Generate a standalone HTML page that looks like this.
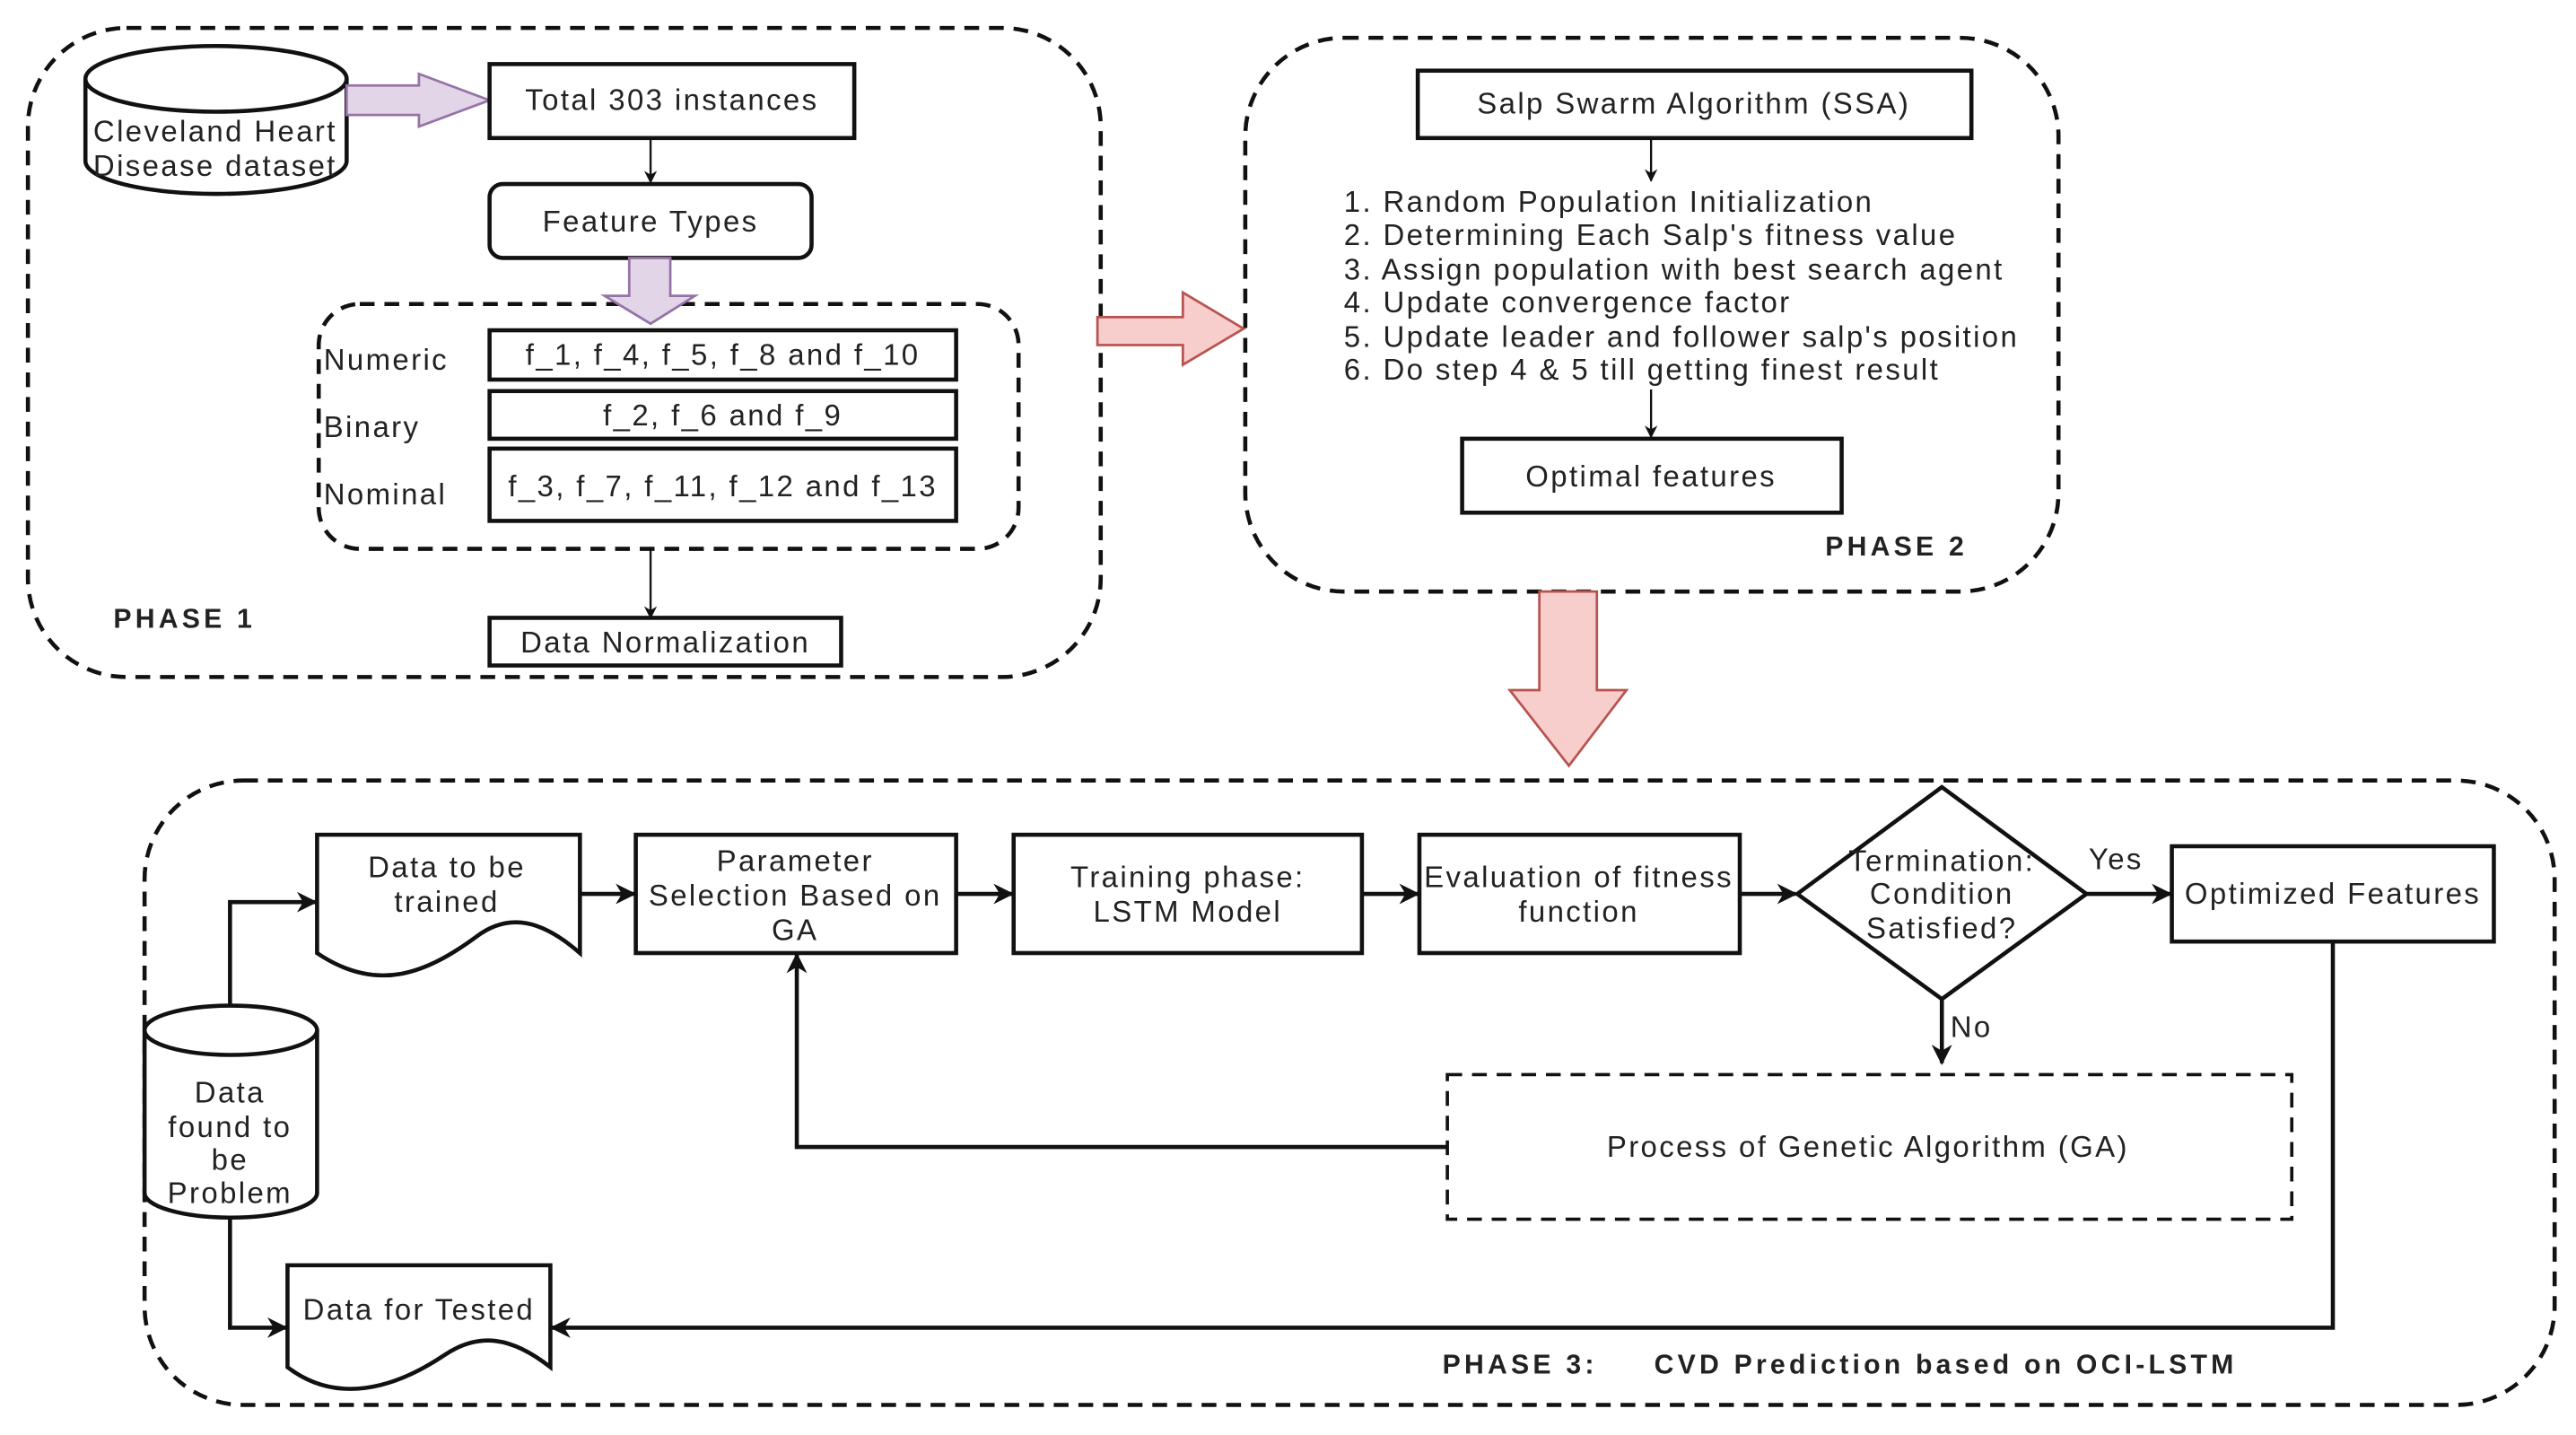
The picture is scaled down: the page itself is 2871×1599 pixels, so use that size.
<!DOCTYPE html>
<html><head><meta charset="utf-8"><style>
html,body{margin:0;padding:0;background:#fff;}
svg{display:block;}
text{font-family:"Liberation Sans",sans-serif;fill:#222;letter-spacing:1.3px;}
text.b{letter-spacing:2.3px;}
</style></head><body>
<svg width="2871" height="1599" viewBox="0 0 1568 873.3" xmlns="http://www.w3.org/2000/svg">
<defs>
<marker id="a" viewBox="0 0 10 10" refX="9" refY="5" markerWidth="5" markerHeight="5" orient="auto" markerUnits="strokeWidth"><path d="M0,0 L10,5 L0,10 L3,5 z" fill="#111"/></marker>
<marker id="b" viewBox="0 0 10 10" refX="9" refY="5" markerWidth="6" markerHeight="6" orient="auto" markerUnits="strokeWidth"><path d="M0,0 L10,5 L0,10 L3,5 z" fill="#111"/></marker>
</defs>
<g fill="none" stroke="#111" stroke-width="2.5" stroke-dasharray="9,6">
<rect x="17" y="17" width="653" height="395" rx="60"/>
<rect x="194" y="185" width="426" height="149" rx="25"/>
<rect x="758" y="23" width="495" height="337" rx="60"/>
<rect x="88" y="475" width="1467" height="380" rx="60"/>
<rect x="881" y="654" width="514" height="88" stroke-width="2"/>
</g>
<!-- Phase 1 -->
<g stroke="#111" stroke-width="2.5" fill="#fff">
<path d="M52,48 L52,98 A79.5,20 0 0 0 211,98 L211,48"/>
<ellipse cx="131.5" cy="48" rx="79.5" ry="20"/>
</g>
<path d="M211,52 L255,52 L255,45 L298,61 L255,77 L255,70 L211,70 Z" fill="#e1d5e7" stroke="#9673a6" stroke-width="1.5"/>
<g fill="#fff" stroke="#111" stroke-width="2.5">
<rect x="298" y="39" width="222" height="45"/>
<rect x="298" y="112" width="196" height="45" rx="8"/>
<rect x="298" y="201" width="284" height="30"/>
<rect x="298" y="238" width="284" height="29"/>
<rect x="298" y="273" width="284" height="44"/>
<rect x="298" y="376" width="214" height="29"/>
</g>
<path d="M383,157 L408,157 L408,180 L423,180 L396,197 L368,180 L383,180 Z" fill="#e1d5e7" stroke="#9673a6" stroke-width="1.5"/>
<g stroke="#111" stroke-width="1.3" marker-end="url(#b)">
<line x1="396" y1="84" x2="396" y2="111"/>
<line x1="396" y1="334" x2="396" y2="376"/>
<line x1="1005" y1="84" x2="1005" y2="110"/>
<line x1="1005" y1="237" x2="1005" y2="266"/>
</g>
<g font-size="18">
<text x="131" y="86" text-anchor="middle">Cleveland Heart</text>
<text x="131" y="107" text-anchor="middle">Disease dataset</text>
<text x="409" y="67" text-anchor="middle">Total 303 instances</text>
<text x="396" y="141" text-anchor="middle">Feature Types</text>
<text x="440" y="222" text-anchor="middle">f_1, f_4, f_5, f_8 and f_10</text>
<text x="440" y="259" text-anchor="middle">f_2, f_6 and f_9</text>
<text x="440" y="302" text-anchor="middle">f_3, f_7, f_11, f_12 and f_13</text>
<text x="197" y="225">Numeric</text>
<text x="197" y="266">Binary</text>
<text x="197" y="307">Nominal</text>
<text x="405" y="397" text-anchor="middle">Data Normalization</text>
<text class="b" x="69" y="382" font-weight="bold" font-size="16.5">PHASE 1</text>
</g>
<!-- red arrows -->
<path d="M668,193 L720,193 L720,178 L757,200 L720,222 L720,210 L668,210 Z" fill="#f8cecc" stroke="#b85450" stroke-width="1.5"/>
<path d="M937,360 L972,360 L972,420 L990,420 L955,466 L919,420 L937,420 Z" fill="#f8cecc" stroke="#b85450" stroke-width="1.5"/>
<!-- Phase 2 -->
<g fill="#fff" stroke="#111" stroke-width="2.5">
<rect x="863" y="43" width="337" height="41"/>
<rect x="890" y="267" width="231" height="45"/>
</g>
<g font-size="18">
<text x="1031" y="69" text-anchor="middle">Salp Swarm Algorithm (SSA)</text>
<text x="818" y="129">1. Random Population Initialization</text>
<text x="818" y="149">2. Determining Each Salp's fitness value</text>
<text x="818" y="170">3. Assign population with best search agent</text>
<text x="818" y="190">4. Update convergence factor</text>
<text x="818" y="211">5. Update leader and follower salp's position</text>
<text x="818" y="231">6. Do step 4 &amp; 5 till getting finest result</text>
<text x="1005" y="296" text-anchor="middle">Optimal features</text>
<text class="b" x="1111" y="338" font-weight="bold" font-size="16.5">PHASE 2</text>
</g>
<!-- Phase 3 -->
<g fill="#fff" stroke="#111" stroke-width="2.5">
<path d="M193,508 L353,508 L353,580 C330,560 310,555 290,570 C260,592 230,605 193,580 Z"/>
<rect x="387" y="508" width="195" height="72"/>
<rect x="617" y="508" width="212" height="72"/>
<rect x="864" y="508" width="195" height="72"/>
<path d="M1182,479 L1270,544 L1182,608 L1094,544 Z"/>
<rect x="1322" y="515" width="196" height="58"/>
<path d="M88,627 L88,726 A52.5,15 0 0 0 193,726 L193,627"/>
<ellipse cx="140.5" cy="627" rx="52.5" ry="15"/>
<path d="M175,770 L335,770 L335,832 C312,814 292,810 270,825 C240,845 205,855 175,832 Z"/>
</g>
<g fill="none" stroke="#111" stroke-width="2.5" marker-end="url(#a)">
<line x1="353" y1="544" x2="386" y2="544"/>
<line x1="582" y1="544" x2="616" y2="544"/>
<line x1="829" y1="544" x2="863" y2="544"/>
<line x1="1059" y1="544" x2="1093" y2="544"/>
<line x1="1270" y1="544" x2="1321" y2="544"/>
<line x1="1182" y1="608" x2="1182" y2="647"/>
<polyline points="881,698 485,698 485,581"/>
<polyline points="140,612 140,549 192,549"/>
<polyline points="140,741 140,808 174,808"/>
<polyline points="1420,573 1420,808 336,808"/>
</g>
<g font-size="18" text-anchor="middle">
<text x="272" y="534">Data to be</text>
<text x="272" y="555">trained</text>
<text x="484" y="530">Parameter</text>
<text x="484" y="551">Selection Based on</text>
<text x="484" y="572">GA</text>
<text x="723" y="540">Training phase:</text>
<text x="723" y="561">LSTM Model</text>
<text x="961" y="540">Evaluation of fitness</text>
<text x="961" y="561">function</text>
<text x="1182" y="530">Termination:</text>
<text x="1182" y="550">Condition</text>
<text x="1182" y="571">Satisfied?</text>
<text x="1420" y="550">Optimized Features</text>
<text x="1288" y="529">Yes</text>
<text x="1200" y="631">No</text>
<text x="1137" y="704">Process of Genetic Algorithm (GA)</text>
<text x="140" y="671">Data</text>
<text x="140" y="692">found to</text>
<text x="140" y="712">be</text>
<text x="140" y="732">Problem</text>
<text x="255" y="803">Data for Tested</text>
</g>
<text class="b" x="878" y="836" font-weight="bold" font-size="16.5" xml:space="preserve">PHASE 3:     CVD Prediction based on OCI-LSTM</text>
</svg>
</body></html>
